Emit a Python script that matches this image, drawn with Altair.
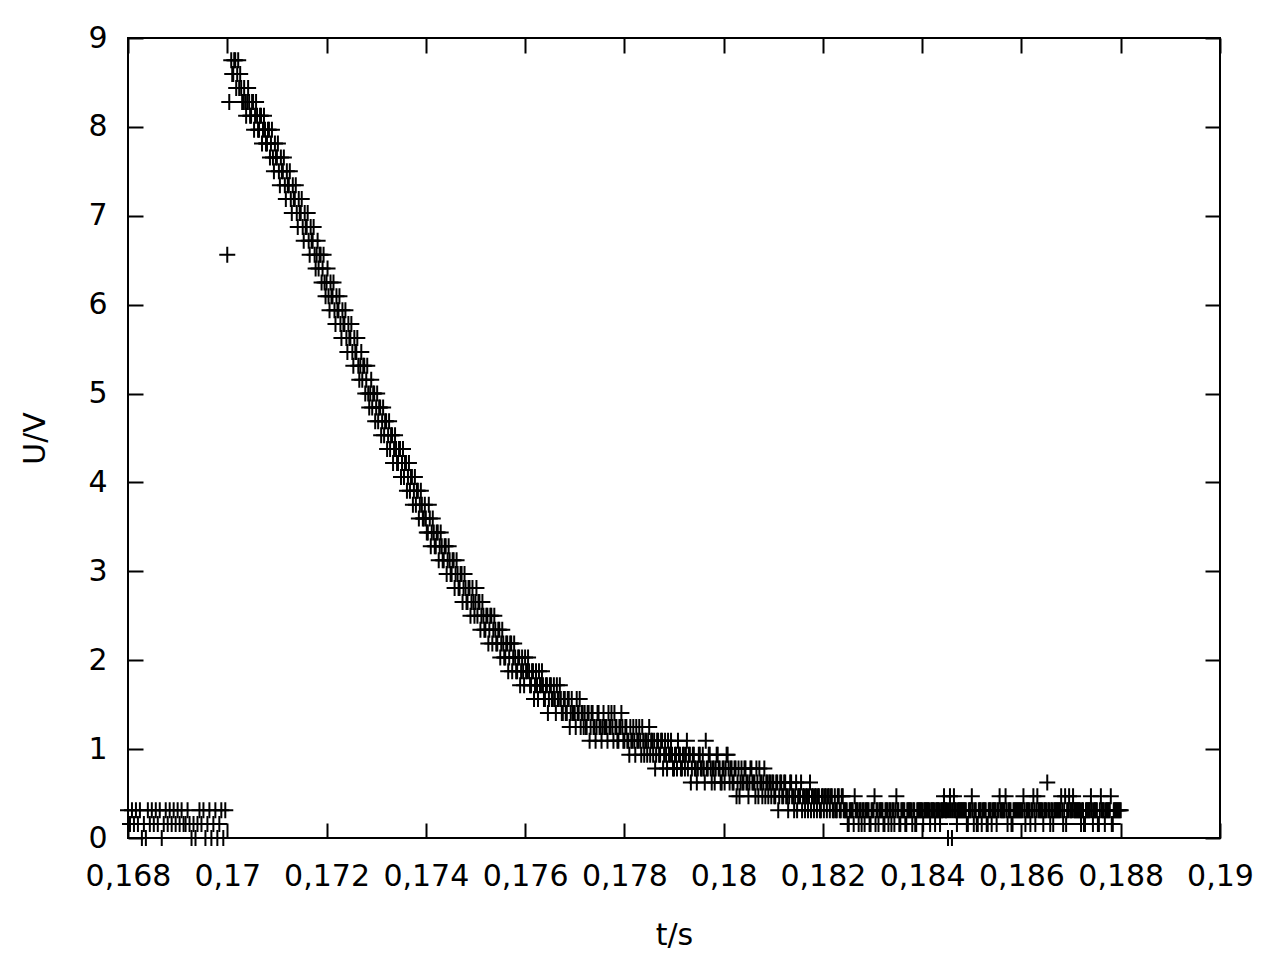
import altair as alt
import pandas as pd

alt.data_transformers.disable_max_rows()

# sampling of the scope trace (s) and ADC step (V)
T0 = 0.168
DT = 0.00004
STEP = 10 / 64

# ADC codes, one list per stretch of the trace
pre = [2, 1, 2, 1, 2, 1, 2, 0, 1, 0, 2, 1, 2, 1, 2, 1, 2, 0, 1, 2,
       1, 2, 1, 2, 1, 2, 1, 2, 1, 1, 2, 1, 0, 1, 0, 1, 2, 1, 2, 0,
       1, 2, 0, 1, 2, 0, 1, 2, 0, 2]
decay1 = [42, 53, 56, 55, 56, 55, 54, 54, 53, 53, 53, 53, 52, 53, 52, 52, 51, 52, 51, 51,
          50, 51, 50, 49, 50, 49, 48, 49, 48, 47, 48, 47, 46, 47, 46, 45, 46, 45, 44, 45,
          44, 43, 44, 43, 42, 42, 41, 42, 41, 40]
decay2 = [40, 39, 40, 39, 38, 39, 38, 37, 38, 37, 36, 37, 36, 35, 36, 35, 34, 34, 33, 34,
          33, 32, 32, 31, 32, 31, 30, 31, 30, 29, 30, 29, 28, 29, 28, 28, 27, 28, 27, 26,
          27, 26, 25, 26, 25, 24, 25, 24, 24, 23]
decay3 = [23, 22, 23, 22, 22, 21, 22, 21, 21, 20, 21, 20, 20, 19, 20, 19, 19, 18, 19, 18,
          18, 17, 18, 17, 17, 17, 16, 17, 16, 16, 15, 16, 15, 16, 15, 15, 14, 15, 14, 14,
          13, 14, 13, 14, 13, 13, 12, 13, 12, 12]
decay4 = [13, 12, 12, 11, 12, 11, 11, 12, 11, 11, 10, 11, 10, 11, 10, 10, 11, 10, 10, 9,
          10, 9, 10, 9, 9, 9, 10, 9, 8, 9, 9, 8, 9, 8, 9, 8, 8, 9, 8, 8,
          8, 8, 9, 8, 8, 9, 8, 7, 8, 8]
decay5 = [7, 8, 7, 8, 7, 7, 8, 7, 7, 8, 6, 7, 7, 6, 7, 7, 6, 7, 6, 7,
          6, 6, 7, 6, 6, 5, 6, 7, 6, 5, 6, 6, 5, 6, 5, 6, 5, 5, 6, 5,
          5, 7, 5, 6, 4, 5, 5, 6, 5, 4]
decay6 = [5, 5, 6, 4, 5, 4, 5, 4, 3, 5, 4, 5, 4, 4, 5, 4, 3, 4, 5, 4,
          4, 3, 4, 4, 3, 4, 3, 4, 3, 4, 3, 4, 3, 3, 4, 3, 3, 2, 3, 4,
          3, 2, 3, 3, 2, 3, 3, 2, 3, 2]
tail1 = [3, 3, 2, 3, 3, 2, 3, 2, 3, 2, 3, 2, 2, 1, 2, 2, 3, 2, 1, 2,
         2, 1, 2, 2, 1, 2, 3, 2, 1, 2, 2, 1, 2, 1, 2, 2, 1, 3, 2, 1,
         2, 2, 1, 2, 2, 1, 2, 1, 2, 2]
tail2 = [2, 2, 2, 2, 1, 2, 2, 2, 2, 1, 2, 3, 2, 0, 3, 0, 3, 2, 2, 2,
         2, 2, 2, 1, 2, 3, 1, 2, 1, 2, 1, 2, 2, 1, 2, 1, 2, 2, 2, 3,
         2, 2, 3, 1, 2, 1, 2, 2, 2, 2]
tail3 = [2, 3, 1, 2, 2, 2, 3, 1, 3, 2, 2, 1, 2, 4, 2, 2, 1, 2, 2, 2,
         3, 1, 3, 2, 3, 2, 3, 2, 2, 2, 1, 2, 1, 2, 2, 3, 1, 2, 2, 1,
         3, 2, 1, 2, 2, 3, 1, 2, 2, 2, 2]

# in-between samples (half a step later), starting at sample 52
MID_START = 52
mid1 = [55, 56, 54, 56, 55, 53, 54, 52, 54, 52, 53, 51, 53, 51, 52, 50, 52, 50, 51, 49,
        51, 48, 49, 50, 47, 48, 49, 46, 47, 48, 45, 46, 47, 44, 45, 46, 43, 44, 45, 42,
        43, 44, 41, 43, 42, 40, 42, 39]
mid2 = [41, 38, 39, 40, 37, 38, 39, 36, 37, 38, 35, 36, 37, 34, 35, 36, 33, 35, 34, 32,
        34, 31, 33, 32, 30, 32, 31, 29, 31, 30, 28, 30, 29, 27, 29, 27, 28, 26, 28, 27,
        25, 27, 26, 24, 26, 25, 23, 25, 23, 24]
mid3 = [22, 24, 21, 23, 21, 22, 20, 22, 20, 21, 19, 21, 19, 20, 18, 20, 18, 19, 17, 19,
        17, 18, 16, 18, 16, 18, 17, 15, 17, 15, 16, 14, 16, 14, 16, 14, 15, 13, 15, 13,
        14, 12, 14, 12, 14, 12, 13, 11, 13, 11]
mid4 = [12, 13, 11, 12, 10, 12, 10, 11, 12, 10, 11, 9, 11, 10, 11, 9, 10, 11, 9, 10,
        9, 10, 8, 10, 9, 8, 9, 10, 9, 8, 8, 9, 7, 9, 8, 7, 9, 8, 7, 9,
        8, 7, 8, 9, 7, 8, 7, 8, 9, 7]
mid5 = [8, 7, 6, 7, 8, 6, 7, 8, 6, 7, 7, 6, 8, 7, 6, 5, 7, 6, 7, 5,
        7, 5, 6, 7, 5, 6, 5, 6, 5, 6, 5, 7, 6, 4, 6, 5, 4, 6, 5, 6,
        4, 5, 6, 5, 5, 4, 6, 5, 4, 5]
mid6 = [4, 6, 5, 5, 4, 5, 3, 5, 4, 4, 5, 4, 3, 5, 4, 4, 5, 3, 4, 3,
        5, 4, 3, 4, 4, 3, 4, 2, 4, 3, 4, 3, 2, 4, 3, 2, 4, 3, 3, 2,
        3, 3, 2, 4, 3, 2, 3, 3, 2, 3]
mid7 = [2, 3, 3, 2, 3, 2, 2, 3, 2, 3, 2, 2, 1, 2, 2, 1, 2, 2, 2, 1,
        2, 2, 2, 1, 2, 2, 1, 2, 2, 2, 1, 2, 2, 2, 1, 2, 2, 2, 1, 2,
        2, 1, 2, 2, 2, 2, 1, 2, 2, 2]
mid8 = [1, 2, 2, 2, 2, 2, 1, 2, 2, 2, 2, 2, 2, 2, 2, 2, 2, 1, 2, 2,
        2, 2, 1, 2, 2, 2, 2, 1, 2, 2, 2, 2, 1, 2, 2, 2, 2, 1, 2, 2,
        2, 2, 2, 2, 2, 1, 2, 2, 2, 2]
mid9 = [2, 2, 2, 2, 1, 2, 2, 2, 2, 2, 2, 2, 2, 2, 1, 2, 2, 2, 2, 2,
        2, 2, 1, 2, 2, 2, 2, 2, 2, 2, 2, 1, 2, 2, 2, 2, 2, 2, 1, 2,
        2, 2, 2, 2, 2, 1, 2, 2, 2, 2]

x_ticks = [0.168, 0.17, 0.172, 0.174, 0.176, 0.178, 0.18, 0.182, 0.184, 0.186, 0.188, 0.19]
y_ticks = [0, 1, 2, 3, 4, 5, 6, 7, 8, 9]

codes = pre + decay1 + decay2 + decay3 + decay4 + decay5 + decay6 + tail1 + tail2 + tail3
mids = mid1 + mid2 + mid3 + mid4 + mid5 + mid6 + mid7 + mid8 + mid9
times = [round(T0 + i * DT, 6) for i in range(len(codes))]
times += [round(T0 + (MID_START + k + 0.5) * DT, 6) for k in range(len(mids))]
df = pd.DataFrame({"t": times, "u": [c * STEP for c in codes + mids]})

W, H = 1092, 800
FONT = "DejaVu Sans"
FS = 30
CROSS = "M-1,0L1,0M0,-1L0,1"
comma = "replace(toString(datum.value), '.', ',')"

xs = alt.Scale(domain=[0.168, 0.19], nice=False, zero=False)
ys = alt.Scale(domain=[0, 9], nice=False, zero=False)


def tick_axis(orient, offset, values):
    return alt.Axis(orient=orient, offset=offset, values=values, labels=False, domain=False,
                    grid=False, tickSize=15, tickWidth=2, tickColor="black", title="")


points = alt.Chart(df).mark_point(shape=CROSS, size=256, filled=False, color="black",
                                  strokeWidth=2, opacity=1).encode(
    x=alt.X("t:Q", scale=xs, axis=alt.Axis(
        orient="bottom", values=x_ticks, labelExpr=comma, ticks=False, domain=False, grid=False,
        labelFontSize=FS, labelPadding=23, labelFlush=False, labelOverlap=False,
        title="t/s", titleFontSize=FS, titleFontWeight="normal",
        titleX=W / 2, titleY=106, titleBaseline="alphabetic", titleAlign="center")),
    y=alt.Y("u:Q", scale=ys, axis=alt.Axis(
        orient="left", values=y_ticks, ticks=False, domain=False, grid=False,
        labelFontSize=FS, labelPadding=21, labelFlush=False,
        title="U/V", titleFontSize=FS, titleFontWeight="normal", titleAngle=270,
        titleX=-84, titleY=H / 2, titleBaseline="alphabetic", titleAlign="center")),
)

# inward ticks on the bottom and left edges
ticks_bl = alt.Chart(df).mark_point(opacity=0).encode(
    x=alt.X("t:Q", scale=xs, axis=tick_axis("top", -H, x_ticks)),
    y=alt.Y("u:Q", scale=ys, axis=tick_axis("right", -W, y_ticks)),
)
# inward ticks on the top and right edges
ticks_tr = alt.Chart(df).mark_point(opacity=0).encode(
    x=alt.X("t:Q", scale=xs, axis=tick_axis("bottom", -H, x_ticks)),
    y=alt.Y("u:Q", scale=ys, axis=tick_axis("left", -W, y_ticks)),
)

chart = alt.layer(points, ticks_bl, ticks_tr).resolve_scale(
    x="independent", y="independent"
).properties(
    width=W, height=H,
    autosize=alt.AutoSizeParams(type="none"),
    padding={"left": 120, "top": 30, "right": 52, "bottom": 114},
).configure_view(
    stroke="black", strokeWidth=2
).configure_axis(
    labelFont=FONT, titleFont=FONT, labelColor="black", titleColor="black"
)

chart.save("out.html", embed_options={"renderer": "svg", "actions": False})
